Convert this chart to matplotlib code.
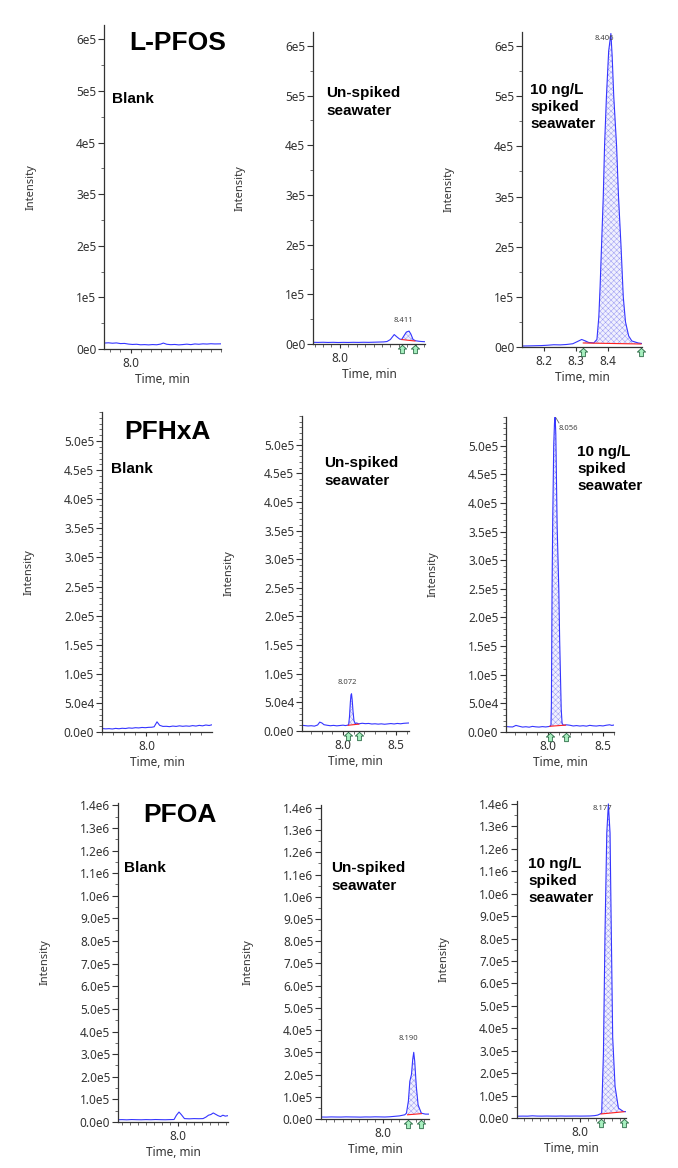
import numpy as np
import matplotlib
matplotlib.use('Agg')
import matplotlib.pyplot as plt
from matplotlib.ticker import MultipleLocator
from matplotlib.lines import Line2D

W, H = 678, 1168

# ---------------- dane (czas w min, intensywnosc w tysiacach zliczen) ----------------
# L-PFOS
pfos_blank_t = [7.868, 7.89, 7.91, 7.93, 7.95, 7.97, 7.99, 8.01, 8.03, 8.05, 8.07, 8.09, 8.11, 8.13, 8.15,
                8.163, 8.18, 8.20, 8.22, 8.24, 8.26, 8.28, 8.30, 8.32, 8.34, 8.36, 8.38, 8.40, 8.42, 8.45]
pfos_blank_k = [11.5, 12.0, 11.2, 11.8, 10.5, 10.8, 9.5, 8.8, 9.2, 8.2, 8.5, 8.0, 8.6, 8.2, 9.5,
                11.5, 9.2, 8.4, 8.8, 8.0, 8.6, 9.4, 8.5, 9.8, 9.2, 10.0, 9.6, 10.2, 9.8, 10.0]

pfos_unspiked_t = [7.84, 7.87, 7.90, 7.93, 7.96, 7.99, 8.02, 8.05, 8.08, 8.11, 8.14, 8.17, 8.20, 8.23, 8.26,
                   8.28, 8.30, 8.323, 8.34, 8.355, 8.367, 8.38, 8.395, 8.411, 8.422, 8.435, 8.45, 8.47, 8.486, 8.506]
pfos_unspiked_k = [3.4, 3.2, 3.5, 3.1, 3.4, 3.0, 3.3, 3.1, 3.4, 3.2, 3.5, 3.3, 3.6, 3.9, 4.2,
                   5.0, 9.0, 19.0, 14.0, 10.0, 9.0, 16.0, 24.0, 26.0, 20.0, 9.0, 6.5, 5.5, 5.0, 4.6]

pfos_spiked_t = [8.13, 8.15, 8.17, 8.19, 8.21, 8.23, 8.25, 8.27, 8.29, 8.305, 8.318, 8.33, 8.34, 8.35,
                 8.356, 8.366, 8.372, 8.376, 8.381, 8.386, 8.390, 8.396, 8.403, 8.410, 8.414, 8.419,
                 8.428, 8.434, 8.442, 8.449, 8.456, 8.466, 8.476, 8.496, 8.508]
pfos_spiked_k = [2.0, 2.2, 2.5, 2.8, 3.5, 4.5, 4.2, 5.0, 6.5, 11.0, 15.0, 12.0, 9.0, 8.5,
                 8.0, 15.0, 60.0, 120.0, 210.0, 300.0, 400.0, 500.0, 590.0, 625.0, 580.0, 500.0,
                 400.0, 300.0, 200.0, 100.0, 50.0, 22.0, 12.0, 8.0, 7.0]

# PFHxA
pfhxa_blank_t = [7.798, 7.815, 7.83, 7.845, 7.86, 7.875, 7.89, 7.905, 7.92, 7.935, 7.95, 7.965, 7.98, 7.995,
                 8.01, 8.025, 8.035, 8.048, 8.06, 8.075, 8.09, 8.105, 8.12, 8.135, 8.15, 8.165, 8.18, 8.195,
                 8.21, 8.225, 8.24, 8.255, 8.27, 8.285, 8.298]
pfhxa_blank_k = [6.0, 5.4, 5.8, 5.2, 6.2, 5.6, 6.4, 6.0, 7.0, 6.5, 7.4, 7.0, 7.8, 7.4,
                 8.0, 8.2, 9.0, 17.5, 11.5, 9.6, 9.8, 9.2, 10.2, 9.6, 10.6, 9.8, 10.4, 9.9,
                 11.0, 10.2, 11.4, 10.6, 12.0, 11.2, 12.4]

pfhxa_unspiked_t = [7.613, 7.64, 7.67, 7.70, 7.73, 7.76, 7.78, 7.80, 7.82, 7.85, 7.88, 7.91, 7.94, 7.97, 8.00,
                    8.02, 8.04, 8.052, 8.060, 8.068, 8.074, 8.079, 8.085, 8.093, 8.102, 8.114, 8.128, 8.145,
                    8.18, 8.21, 8.24, 8.27, 8.30, 8.33, 8.36, 8.39, 8.42, 8.45, 8.48, 8.51, 8.54, 8.57, 8.60, 8.62]
pfhxa_unspiked_k = [10.0, 9.4, 8.8, 9.2, 8.5, 10.5, 15.5, 14.0, 11.0, 10.0, 9.2, 9.8, 9.0, 9.6, 10.2,
                    9.5, 10.0, 11.0, 25.0, 50.0, 63.0, 65.0, 55.0, 35.0, 18.0, 13.0, 14.0, 12.5,
                    13.5, 12.8, 13.2, 12.2, 12.6, 12.0, 12.5, 11.8, 12.4, 13.0, 12.3, 13.2, 12.6, 13.4, 13.8, 14.0]

pfhxa_spiked_t = [7.62, 7.65, 7.68, 7.71, 7.74, 7.77, 7.80, 7.83, 7.86, 7.89, 7.92, 7.95, 7.98, 8.01, 8.02,
                  8.028, 8.032, 8.038, 8.044, 8.053, 8.060, 8.066, 8.072, 8.078, 8.084, 8.099, 8.107, 8.114,
                  8.121, 8.129, 8.140, 8.17, 8.20, 8.23, 8.26, 8.29, 8.32, 8.35, 8.38, 8.41, 8.44, 8.47,
                  8.50, 8.53, 8.56, 8.58, 8.60]
pfhxa_spiked_k = [9.5, 9.0, 8.8, 11.5, 10.0, 8.6, 9.2, 8.4, 9.8, 9.0, 8.6, 9.4, 8.8, 9.6, 10.0,
                  12.0, 50.0, 250.0, 370.0, 500.0, 540.0, 550.0, 520.0, 440.0, 360.0, 250.0, 160.0, 100.0,
                  40.0, 15.0, 12.0, 12.5, 11.8, 10.5, 11.2, 10.4, 11.0, 10.2, 11.6, 10.8, 10.4, 11.2,
                  10.6, 11.8, 12.6, 11.5, 12.2]

# PFOA
pfoa_blank_t = [7.625, 7.65, 7.68, 7.71, 7.74, 7.77, 7.80, 7.83, 7.86, 7.89, 7.92, 7.95, 7.975, 7.99, 8.006,
                8.02, 8.04, 8.07, 8.10, 8.13, 8.156, 8.175, 8.19, 8.205, 8.22, 8.235, 8.25, 8.265, 8.28,
                8.295, 8.312]
pfoa_blank_k = [10.0, 10.5, 9.6, 10.8, 10.2, 9.8, 10.6, 10.0, 10.9, 10.3, 9.9, 10.6, 11.0, 30.0, 44.0,
                33.0, 15.0, 14.0, 15.0, 14.5, 15.0, 22.0, 30.0, 33.0, 40.0, 34.0, 28.0, 24.0, 30.0,
                26.0, 28.0]

pfoa_unspiked_t = [7.617, 7.65, 7.68, 7.71, 7.74, 7.77, 7.80, 7.83, 7.86, 7.89, 7.92, 7.95, 7.98, 8.01, 8.04,
                   8.07, 8.10, 8.12, 8.133, 8.143, 8.155, 8.164, 8.174, 8.182, 8.188, 8.194, 8.204, 8.215,
                   8.235, 8.26, 8.282]
pfoa_unspiked_k = [9.0, 8.6, 9.4, 9.0, 8.8, 9.6, 9.2, 9.0, 8.5, 9.3, 9.0, 9.8, 9.4, 9.0, 10.0,
                   12.0, 14.0, 17.0, 19.0, 26.0, 80.0, 170.0, 200.0, 270.0, 300.0, 260.0, 145.0, 63.0,
                   26.0, 22.0, 22.0]

pfoa_spiked_t = [7.604, 7.64, 7.67, 7.70, 7.73, 7.76, 7.79, 7.82, 7.85, 7.88, 7.91, 7.94, 7.97, 8.00, 8.03,
                 8.06, 8.09, 8.11, 8.125, 8.135, 8.146, 8.156, 8.167, 8.177, 8.1875, 8.194, 8.204, 8.219,
                 8.24, 8.271, 8.2875]
pfoa_spiked_k = [8.0, 8.5, 8.2, 9.8, 8.6, 8.4, 8.8, 8.5, 8.3, 8.9, 8.4, 8.6, 8.8, 8.5, 8.7,
                 9.0, 10.5, 13.0, 18.0, 22.0, 290.0, 830.0, 1270.0, 1400.0, 1270.0, 900.0, 360.0, 140.0,
                 44.0, 29.0, 28.0]

# integracja pikow: (start, koniec) i linia bazowa (k zliczen na poczatku, na koncu)
pfos_unspiked_int = (8.367, 8.446, 9.0, 6.0)
pfos_spiked_int = (8.323, 8.505, 8.0, 6.0)
pfhxa_unspiked_int = (8.047, 8.148, 10.0, 12.0)
pfhxa_spiked_int = (8.018, 8.16, 10.0, 12.0)
pfoa_unspiked_int = (8.15, 8.235, 19.0, 24.0)
pfoa_spiked_int = (8.131, 8.275, 18.0, 28.0)

# czasy retencji podpisane nad pikami
rt_labels = ['8.411', '8.406', '8.072', '8.056', '8.190', '8.177']

compounds = ['L-PFOS', 'PFHxA', 'PFOA']
sample_labels = ['Blank', 'Un-spiked\nseawater', '10 ng/L\nspiked\nseawater']

row1_yticks = [0, 1e5, 2e5, 3e5, 4e5, 5e5, 6e5]
row1_ylabels = ['0e0', '1e5', '2e5', '3e5', '4e5', '5e5', '6e5']
row2_yticks = [0, 5e4, 1e5, 1.5e5, 2e5, 2.5e5, 3e5, 3.5e5, 4e5, 4.5e5, 5e5]
row2_ylabels = ['0.0e0', '5.0e4', '1.0e5', '1.5e5', '2.0e5', '2.5e5', '3.0e5', '3.5e5', '4.0e5',
                '4.5e5', '5.0e5']
row3_yticks = [0, 1e5, 2e5, 3e5, 4e5, 5e5, 6e5, 7e5, 8e5, 9e5, 1e6, 1.1e6, 1.2e6, 1.3e6, 1.4e6]
row3_ylabels = ['0.0e0', '1.0e5', '2.0e5', '3.0e5', '4.0e5', '5.0e5', '6.0e5', '7.0e5', '8.0e5',
                '9.0e5', '1.0e6', '1.1e6', '1.2e6', '1.3e6', '1.4e6']

# ---------------- uklad paneli (piksele: lewo, prawo, gora, dol) ----------------
panels = [
    dict(t=pfos_blank_t, k=pfos_blank_k, integ=None, box=(104, 221, 25, 349), xlim=(7.868, 8.45),
         xt=[8.0], xminor=0.05, ylim=6.28e5, yt=row1_yticks, yl=row1_ylabels, yminor=5e4),
    dict(t=pfos_unspiked_t, k=pfos_unspiked_k, integ=pfos_unspiked_int, box=(313, 425, 32, 344),
         xlim=(7.84, 8.506), xt=[8.0], xminor=0.05, ylim=6.28e5, yt=row1_yticks, yl=row1_ylabels, yminor=5e4),
    dict(t=pfos_spiked_t, k=pfos_spiked_k, integ=pfos_spiked_int, box=(522, 642, 32, 347),
         xlim=(8.13, 8.508), xt=[8.2, 8.3, 8.4], xminor=None, ylim=6.28e5, yt=row1_yticks, yl=row1_ylabels,
         yminor=5e4),
    dict(t=pfhxa_blank_t, k=pfhxa_blank_k, integ=None, box=(102, 212, 412, 732), xlim=(7.798, 8.298),
         xt=[8.0], xminor=0.05, ylim=5.5e5, yt=row2_yticks, yl=row2_ylabels, yminor=1e4),
    dict(t=pfhxa_unspiked_t, k=pfhxa_unspiked_k, integ=pfhxa_unspiked_int, box=(302, 409, 416, 731),
         xlim=(7.613, 8.62), xt=[8.0, 8.5], xminor=0.1, ylim=5.5e5, yt=row2_yticks, yl=row2_ylabels,
         yminor=1e4),
    dict(t=pfhxa_spiked_t, k=pfhxa_spiked_k, integ=pfhxa_spiked_int, box=(506, 614, 417, 732),
         xlim=(7.62, 8.6), xt=[8.0, 8.5], xminor=0.1, ylim=5.5e5, yt=row2_yticks, yl=row2_ylabels,
         yminor=1e4),
    dict(t=pfoa_blank_t, k=pfoa_blank_k, integ=None, box=(118, 228, 803, 1122), xlim=(7.625, 8.312),
         xt=[8.0], xminor=0.05, ylim=1.41e6, yt=row3_yticks, yl=row3_ylabels, yminor=5e4),
    dict(t=pfoa_unspiked_t, k=pfoa_unspiked_k, integ=pfoa_unspiked_int, box=(321, 429, 805, 1119),
         xlim=(7.617, 8.282), xt=[8.0], xminor=0.05, ylim=1.413e6, yt=row3_yticks, yl=row3_ylabels,
         yminor=5e4),
    dict(t=pfoa_spiked_t, k=pfoa_spiked_k, integ=pfoa_spiked_int, box=(517, 626, 801, 1118),
         xlim=(7.604, 8.2875), xt=[8.0], xminor=0.05, ylim=1.413e6, yt=row3_yticks, yl=row3_ylabels,
         yminor=5e4),
]

# polozenie napisow w pikselach
title_pos = [(178, 43), (167, 432), (180, 815)]
sample_pos = [(112, 99), (326, 102), (530, 107),
              (111, 469), (324, 472), (577, 469),
              (124, 868), (331, 877), (528, 881)]
rt_pos = [(403, 321), (604, 39), (347, 683), (559, 428), (408, 1039), (602, 809)]
rt_ha = ['center', 'center', 'center', 'left', 'center', 'center']

TXT = '#333333'
arrow_marker = [(0, 1), (-1, 0.1), (-0.45, 0.1), (-0.45, -1), (0.45, -1), (0.45, 0.1), (1, 0.1), (0, 1)]

plt.rcParams['font.family'] = ['Noto Sans', 'DejaVu Sans']
plt.rcParams['hatch.linewidth'] = 0.35

fig = plt.figure(figsize=(W / 100, H / 100), dpi=100)
fig.patch.set_facecolor('white')


def fx(x):
    return x / W


def fy(y):
    return 1 - y / H


for p in panels:
    l, r, t, b = p['box']
    ax = fig.add_axes([fx(l), fy(b), (r - l) / W, (b - t) / H])
    tt = np.array(p['t'])
    ii = np.array(p['k']) * 1e3

    if p['integ'] is not None:
        ts, te, bs, be = p['integ']
        sel = (tt > ts) & (tt < te)
        ft = np.concatenate([[ts], tt[sel], [te]])
        fi = np.concatenate([[np.interp(ts, tt, ii)], ii[sel], [np.interp(te, tt, ii)]])
        base = np.interp(ft, [ts, te], [bs * 1e3, be * 1e3])
        ax.fill_between(ft, base, np.maximum(fi, base), facecolor='#f0f0fe', edgecolor='#9a9af2',
                        hatch='xxxxxx', linewidth=0, zorder=1)
        ax.plot([ts, te], [bs * 1e3, be * 1e3], color='#ff2020', lw=0.8, zorder=3)
        ax.plot([ts, te], [-0.016, -0.016], transform=ax.get_xaxis_transform(), ls='none',
                marker=arrow_marker, ms=6, mfc='#a8f0c0', mec='#2a6a45', mew=0.6, clip_on=False, zorder=5)

    ax.plot(tt, ii, color='#3535ff', lw=0.8, zorder=2)

    ax.set_xlim(*p['xlim'])
    ax.set_ylim(0, p['ylim'])
    ax.set_xticks(p['xt'])
    ax.set_xticklabels([f'{v:.1f}' for v in p['xt']])
    if p['xminor']:
        ax.xaxis.set_minor_locator(MultipleLocator(p['xminor']))
    ax.set_yticks(p['yt'])
    ax.set_yticklabels(p['yl'])
    ax.yaxis.set_minor_locator(MultipleLocator(p['yminor']))

    for s in ['top', 'right']:
        ax.spines[s].set_visible(False)
    for s in ['left', 'bottom']:
        ax.spines[s].set_color('#333333')
        ax.spines[s].set_linewidth(0.9)
    ax.tick_params(axis='y', which='major', length=4, width=0.8, pad=1.5, labelsize=8.5,
                   colors='#333333', labelcolor=TXT)
    ax.tick_params(axis='y', which='minor', length=2, width=0.6, colors='#555555')
    ax.tick_params(axis='x', which='major', length=3, width=0.8, pad=3, labelsize=8.5,
                   colors='#333333', labelcolor=TXT)
    ax.tick_params(axis='x', which='minor', length=2, width=0.6, colors='#555555')

    axw, axh = r - l, b - t
    ax.set_ylabel('Intensity', fontsize=8, color=TXT)
    ax.yaxis.set_label_coords(-67 / axw, 0.5)
    ax.set_xlabel('Time, min', fontsize=8.5, color=TXT)
    ax.xaxis.set_label_coords(0.5, -24 / axh)

for name, (x, y) in zip(compounds, title_pos):
    fig.text(fx(x), fy(y), name, ha='center', va='center', fontsize=19, fontweight='bold',
             family='Liberation Sans')

for i, (x, y) in enumerate(sample_pos):
    fig.text(fx(x), fy(y), sample_labels[i % 3], ha='left', va='center', fontsize=11,
             fontweight='bold', family='Liberation Sans', linespacing=1.3)

for lab, (x, y), ha in zip(rt_labels, rt_pos, rt_ha):
    fig.text(fx(x), fy(y), lab, ha=ha, va='center', fontsize=5.5, color='#444444')

# krotka kreska od wierzcholka do podpisu 8.056
fig.add_artist(Line2D([fx(556), fx(559)], [fy(418), fy(423)], color='#666666', lw=0.6))

fig.savefig('out.png', dpi=100, facecolor='white')
